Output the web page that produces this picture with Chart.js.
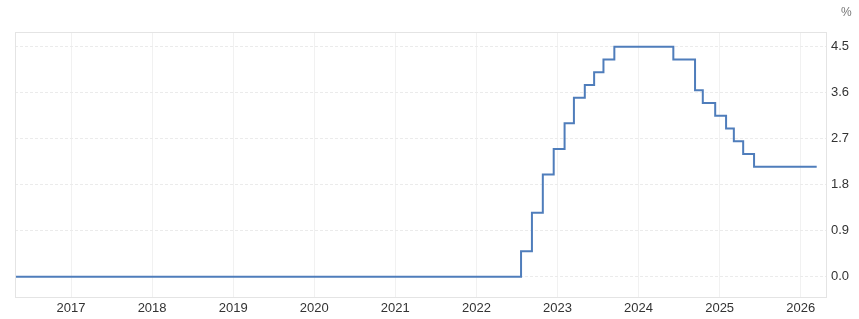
<!DOCTYPE html>
<html>
<head>
  <meta charset="utf-8">
  <title>Interest Rate</title>
  <script src="https://cdn.jsdelivr.net/npm/chart.js"></script>
  <style>
    html, body { margin: 0; padding: 0; background: #fff; }
    #wrap { width: 859px; height: 319px; position: relative; }
  </style>
</head>
<body>
  <div id="wrap"><canvas id="chart"></canvas></div>

  <script>
    // rate decision dates and the level set on each date (%)
    const changeDates = [
      '2016-03-10', '2022-07-21', '2022-09-08', '2022-10-27', '2022-12-15',
      '2023-02-02', '2023-03-16', '2023-05-04', '2023-06-15', '2023-07-27',
      '2023-09-14', '2024-06-06', '2024-09-12', '2024-10-17', '2024-12-12',
      '2025-01-30', '2025-03-06', '2025-04-17', '2025-06-05', '2026-03-14'
    ];
    const rateValues = [
      0.0, 0.5, 1.25, 2.0, 2.5,
      3.0, 3.5, 3.75, 4.0, 4.25,
      4.5, 4.25, 3.65, 3.4, 3.15,
      2.9, 2.65, 2.4, 2.15, 2.15
    ];
    const yearTicks = [2017, 2018, 2019, 2020, 2021, 2022, 2023, 2024, 2025, 2026];
    const rateTicks = [0.0, 0.9, 1.8, 2.7, 3.6, 4.5];

    // date string -> decimal year for the linear x axis
    function toYear(s) {
      const d = new Date(s + 'T00:00:00Z');
      const y = d.getUTCFullYear();
      const start = Date.UTC(y, 0, 1), end = Date.UTC(y + 1, 0, 1);
      return y + (d.getTime() - start) / (end - start);
    }

    const points = changeDates.map((d, i) => ({ x: toYear(d), y: rateValues[i] }));

    const frame = {
      id: 'frame',
      afterDraw(chart) {
        const { ctx, chartArea: a } = chart;
        ctx.save();
        ctx.strokeStyle = '#e4e4e4';
        ctx.lineWidth = 1;
        ctx.strokeRect(Math.round(a.left) + 0.5, Math.round(a.top) + 0.5,
          Math.round(a.right - a.left), Math.round(a.bottom - a.top));
        ctx.fillStyle = '#777';
        ctx.font = '12px "Liberation Sans", Arial, sans-serif';
        ctx.textBaseline = 'middle';
        ctx.fillText('%', 841, 13);
        ctx.restore();
      }
    };

    window.onload = () => {
      const ctx = document.getElementById('chart').getContext('2d');
      new Chart(ctx, {
        type: 'line',
        data: {
          datasets: [{
            label: 'Rate',
            data: points,
            borderColor: '#4f7dbb',
            borderWidth: 2,
            stepped: 'before',
            pointRadius: 0,
            fill: false
          }]
        },
        options: {
          responsive: true,
          maintainAspectRatio: false,
          animation: false,
          layout: { padding: { left: 15, top: 32, right: 0, bottom: 0 } },
          plugins: { legend: { display: false }, tooltip: { enabled: false } },
          scales: {
            x: {
              type: 'linear',
              min: 2016.309,
              max: 2026.312,
              afterBuildTicks: s => { s.ticks = yearTicks.map(v => ({ value: v })); },
              afterFit: s => { s.height = 22; },
              grid: { color: '#f1f1f1', drawTicks: false },
              border: { display: false },
              ticks: {
                padding: 4,
                color: '#333',
                font: { size: 13, family: '"Liberation Sans", Arial, sans-serif' },
                callback: v => String(v)
              }
            },
            y: {
              position: 'right',
              min: -0.396,
              max: 4.787,
              afterBuildTicks: s => { s.ticks = rateTicks.map(v => ({ value: v })); },
              afterFit: s => { s.width = 33; },
              grid: { color: '#ebebeb', drawTicks: false },
              border: { display: false, dash: [3, 2] },
              ticks: {
                padding: 5,
                color: '#333',
                font: { size: 13, family: '"Liberation Sans", Arial, sans-serif' },
                callback: v => v.toFixed(1)
              }
            }
          }
        },
        plugins: [frame]
      });
    };
  </script>
</body>
</html>
